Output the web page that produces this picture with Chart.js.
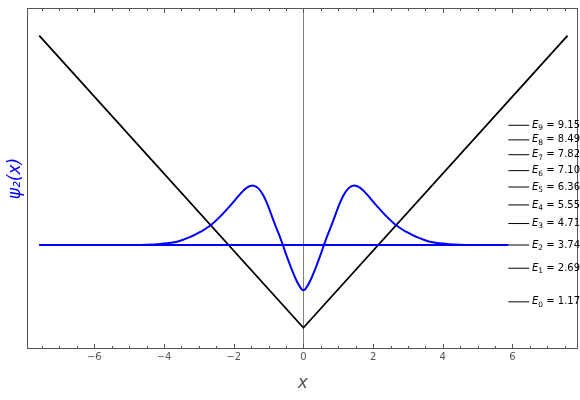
<!DOCTYPE html>
<html>
<head>
<meta charset="utf-8">
<script src="https://cdn.jsdelivr.net/npm/chart.js@4"></script>
<style>
html, body { margin: 0; padding: 0; background: #fff; }
</style>
</head>
<body>
<canvas id="chart" width="580" height="400"></canvas>
<script>
// potential V(x), a V shape
const potX = [-7.58, 0, 7.58];
const potV = [13.2, 0, 13.2];

// psi_2(x), drawn on top of its level E2
const psiX = [-7.58, -5.0, -4.5, -4.11, -3.63, -3.25, -2.96, -2.67, -2.38, -2.10, -1.81, -1.62, -1.45, -1.29, -1.14, -1.00, -0.86, -0.71, -0.59, -0.47, -0.33, -0.19, -0.06,
              0,
              0.06, 0.19, 0.33, 0.47, 0.59, 0.71, 0.86, 1.00, 1.14, 1.29, 1.45, 1.62, 1.81, 2.10, 2.38, 2.67, 2.96, 3.25, 3.63, 4.11, 4.5, 5.0, 5.88];
const psiY = [3.74, 3.74, 3.75, 3.79, 3.89, 4.10, 4.33, 4.62, 5.04, 5.52, 6.05, 6.33, 6.43, 6.30, 5.95, 5.45, 4.85, 4.25, 3.74, 3.20, 2.62, 2.10, 1.76,
              1.70,
              1.76, 2.10, 2.62, 3.20, 3.74, 4.25, 4.85, 5.45, 5.95, 6.30, 6.43, 6.33, 6.05, 5.52, 5.04, 4.62, 4.33, 4.10, 3.89, 3.79, 3.75, 3.74, 3.74];

// energy levels
const levelIndex = ['0', '1', '2', '3', '4', '5', '6', '7', '8', '9'];
const levelValues = [1.17, 2.69, 3.74, 4.71, 5.55, 6.36, 7.10, 7.82, 8.49, 9.15];
const shownLevel = 2;
const levelLineX = [-7.58, 5.88];
const levelMarkX = [5.88, 6.48];
const levelTextX = 6.56;

const xTicks = [-6, -4, -2, 0, 2, 4, 6];

const gray = '#555555';

const datasets = [];
datasets.push({
    data: psiX.map((x, i) => ({ x: x, y: psiY[i] })),
    borderColor: '#0000ff',
    borderWidth: 2,
    tension: 0.35
});
datasets.push({
    data: levelLineX.map(x => ({ x: x, y: levelValues[shownLevel] })),
    borderColor: '#0000ff',
    borderWidth: 2
});
datasets.push({
    data: potX.map((x, i) => ({ x: x, y: potV[i] })),
    borderColor: '#000000',
    borderWidth: 1.8
});
levelValues.forEach(v => {
    datasets.push({
        data: levelMarkX.map(x => ({ x: x, y: v })),
        borderColor: '#000000',
        borderWidth: 1
    });
});

// frame, inward ticks and the level labels
const decorPlugin = {
    id: 'decor',
    afterDraw(chart) {
        const ctx = chart.ctx;
        const area = chart.chartArea;
        const xs = chart.scales.x;
        const ys = chart.scales.y;

        ctx.save();
        ctx.strokeStyle = gray;
        ctx.lineWidth = 1;
        ctx.strokeRect(Math.round(area.left) + 0.5, Math.round(area.top) + 0.5,
                       Math.round(area.right - area.left) - 1, Math.round(area.bottom - area.top) - 1);

        for (let v = -7.5; v <= 7.5; v += 0.5) {
            const px = Math.round(xs.getPixelForValue(v)) + 0.5;
            const len = xTicks.includes(v) ? 5 : 3;
            ctx.beginPath();
            ctx.moveTo(px, area.bottom);
            ctx.lineTo(px, area.bottom - len);
            ctx.moveTo(px, area.top);
            ctx.lineTo(px, area.top + len);
            ctx.stroke();
        }

        ctx.fillStyle = '#000000';
        ctx.textBaseline = 'middle';
        levelValues.forEach((v, i) => {
            let px = xs.getPixelForValue(levelTextX);
            const py = ys.getPixelForValue(v);
            ctx.font = 'italic 10px "DejaVu Sans"';
            ctx.fillText('E', px, py);
            px += ctx.measureText('E').width;
            ctx.font = '7.5px "DejaVu Sans"';
            ctx.fillText(levelIndex[i], px, py + 3);
            px += ctx.measureText(levelIndex[i]).width;
            ctx.font = '10px "DejaVu Sans"';
            ctx.fillText(' = ' + v.toFixed(2), px, py);
        });
        ctx.restore();
    }
};

new Chart(document.getElementById('chart'), {
    type: 'line',
    data: { datasets: datasets },
    plugins: [decorPlugin],
    options: {
        responsive: false,
        animation: false,
        layout: { padding: { top: 8, right: 2, left: 0, bottom: 0 } },
        elements: { point: { radius: 0 }, line: { tension: 0 } },
        scales: {
            x: {
                type: 'linear',
                min: -7.92,
                max: 7.88,
                afterBuildTicks: function(scale) {
                    scale.ticks = xTicks.map(v => ({ value: v }));
                },
                ticks: {
                    padding: 3.5,
                    color: gray,
                    font: { family: 'DejaVu Sans', size: 10, lineHeight: 1 },
                    maxRotation: 0,
                    callback: function(value) {
                        return value < 0 ? '\u2212' + Math.abs(value) : String(value);
                    }
                },
                grid: {
                    drawTicks: false,
                    lineWidth: 1,
                    color: function(context) {
                        return context.tick && context.tick.value === 0 ? '#808080' : 'rgba(0,0,0,0)';
                    }
                },
                border: { display: false },
                title: {
                    display: true,
                    text: 'x',
                    color: gray,
                    font: { family: 'DejaVu Sans', size: 17, style: 'italic', lineHeight: 1 },
                    padding: { top: 9.5, bottom: 7.5 }
                }
            },
            y: {
                type: 'linear',
                min: -0.96,
                max: 14.45,
                ticks: { display: false },
                grid: { display: false, drawTicks: false },
                border: { display: false },
                title: {
                    display: true,
                    text: 'ψ₂(x)',
                    color: '#0000ff',
                    font: { family: 'DejaVu Sans', size: 17, style: 'italic' },
                    padding: { top: 5, bottom: 2 }
                }
            }
        },
        plugins: {
            legend: { display: false },
            tooltip: { enabled: false }
        }
    }
});
</script>
</body>
</html>
